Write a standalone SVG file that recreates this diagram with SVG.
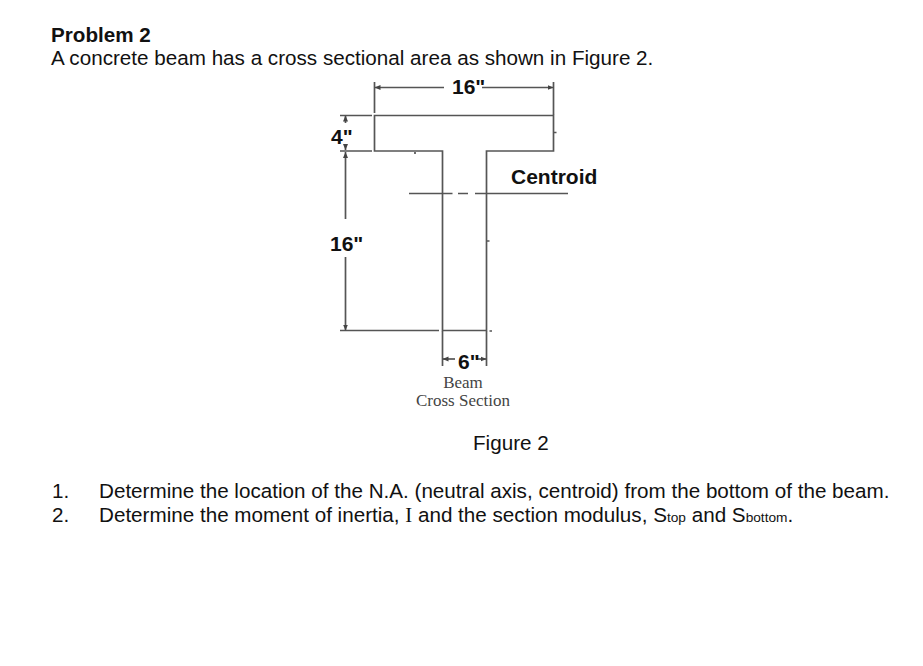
<svg xmlns="http://www.w3.org/2000/svg" width="923" height="666" viewBox="0 0 923 666">
<style>
.t{font-family:"Liberation Sans",Arial,sans-serif;font-size:20.65px;fill:#111}
.b{font-weight:bold}
.d{font-family:"Liberation Sans",Arial,sans-serif;font-weight:bold;font-size:21px;fill:#111}
.s{font-family:"Liberation Serif","Times New Roman",serif;font-size:17px;fill:#444;text-anchor:middle}
.l{fill:none;stroke:#555;stroke-width:1.7}
.sub{font-size:13.7px}
</style>
<defs>
<marker id="a" markerWidth="7" markerHeight="6" refX="6" refY="3" orient="auto-start-reverse" markerUnits="userSpaceOnUse"><path d="M0,0.5L6,3L0,5.500Z" fill="#444"/></marker>
</defs>
<rect width="923" height="666" fill="#fff"/>
<g id="heading">
<text class="t b" x="51" y="42">Problem 2</text>
<text class="t" x="51" y="65">A concrete beam has a cross sectional area as shown in Figure 2.</text>
</g>
<g id="beam">
<path class="l" d="M374.500,115.500H553.500V151H486.500V330.500H442.500V151H374.500Z"/>
</g>
<g id="connectors">
<path class="l" d="M374.500,82V113M553.500,82V115"/>
<path class="l" d="M444,87.500H374.500" marker-end="url(#a)"/>
<path class="l" d="M482,87.500H553.500" marker-end="url(#a)"/>
<path class="l" d="M340,115.500H372M340,151H372M340,330.500H439"/>
<path class="l" d="M345.500,123V115.500" marker-end="url(#a)"/>
<path class="l" d="M345.500,145V150" marker-end="url(#a)"/>
<path class="l" d="M345.500,219V152" marker-end="url(#a)"/>
<path class="l" d="M345.500,257V330.500" marker-end="url(#a)"/>
<path class="l" d="M409,193.500H452.500M458,193.500H468M475,193.500H568"/>
<path class="l" d="M442.500,331V366M486.500,331V366"/>
<path class="l" d="M455,359H442.500" marker-end="url(#a)"/>
<path class="l" d="M476,359H486.500" marker-end="url(#a)"/>
<path class="l" d="M553.500,132.500H556.500M486.500,241H489.500M489.500,331H492M415,152V154"/>
</g>
<g id="labels">
<text class="d" x="452" y="94">16"</text>
<text class="d" x="331" y="144">4"</text>
<text class="d" x="330" y="251">16"</text>
<text class="d" x="511" y="184">Centroid</text>
<text class="d" x="458" y="369">6"</text>
<text class="s" x="463" y="388">Beam</text>
<text class="s" x="463" y="406">Cross Section</text>
</g>
<g id="text">
<text class="t" x="473" y="450">Figure 2</text>
<text class="t" x="52" y="498">1.</text>
<text class="t" x="99" y="498">Determine the location of the N.A. (neutral axis, centroid) from the bottom of the beam.</text>
<text class="t" x="52" y="522">2.</text>
<text class="t" x="99" y="522">Determine the moment of inertia, <tspan font-family="'Liberation Serif',serif">I</tspan> and the section modulus, S<tspan class="sub">top</tspan> and S<tspan class="sub">bottom</tspan>.</text>
</g>
</svg>
